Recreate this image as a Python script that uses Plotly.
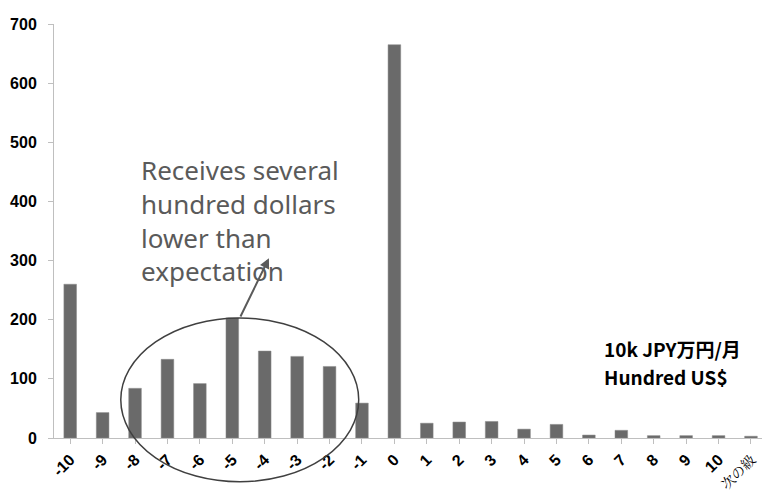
import plotly.graph_objects as go

# Monthly shortfall distribution (difference from expected income)
categories = ["-10", "-9", "-8", "-7", "-6", "-5", "-4", "-3", "-2", "-1", "0",
              "1", "2", "3", "4", "5", "6", "7", "8", "9", "10", "次の級"]
counts = [260, 43, 84, 133, 92, 203, 147, 138, 121, 59, 665,
          25, 27, 28, 15, 23, 5, 13, 4, 4, 4, 3]
y_ticks = [0, 100, 200, 300, 400, 500, 600, 700]

note_lines = ["Receives several", "hundred dollars", "lower than", "expectation"]
unit_lines = ["10k JPY万円/月", "Hundred US$"]

BAR = "#6a6a6a"
AXIS = "#bfbfbf"
NOTE = "#5a5a5a"

X_MAX = 21.34  # category range shown on the right edge
Y_MAX = 700


def dom_x(v):
    """Category position -> fraction of x domain."""
    return (v + 0.5) / (X_MAX + 0.5)


def dom_y(v):
    """Value -> fraction of y domain."""
    return v / Y_MAX


tick_text = [
    c if i < len(categories) - 1 else
    '<span style="font-family:\'Noto Serif CJK JP\',\'Noto Sans CJK JP\';'
    'font-weight:normal;font-size:14px">' + c + "</span>"
    for i, c in enumerate(categories)
]

fig = go.Figure(
    go.Bar(
        x=list(range(len(categories))),
        y=counts,
        marker=dict(color=BAR, line=dict(color="#8a8a8a", width=0.5)),
        width=0.39,
    )
)

fig.update_layout(
    width=762,
    height=492,
    margin=dict(l=54, r=0, t=24, b=54),
    plot_bgcolor="white",
    paper_bgcolor="white",
    showlegend=False,
    xaxis=dict(
        range=[-0.5, X_MAX],
        automargin=False,
        tickmode="array",
        tickvals=list(range(len(categories))),
        ticktext=tick_text,
        tickangle=-45,
        tickfont=dict(family="Liberation Sans", size=16, color="black", weight="bold"),
        showline=True,
        linecolor=AXIS,
        linewidth=1,
        ticks="outside",
        tickson="boundaries",
        ticklen=5,
        tickcolor=AXIS,
        showgrid=False,
        zeroline=False,
    ),
    yaxis=dict(
        range=[0, Y_MAX],
        automargin=False,
        tickmode="array",
        tickvals=y_ticks,
        tickfont=dict(family="Liberation Sans", size=16, color="black", weight="bold"),
        ticklabelstandoff=8,
        showline=True,
        linecolor=AXIS,
        linewidth=1,
        ticks="outside",
        ticklen=5,
        tickcolor=AXIS,
        showgrid=False,
        zeroline=False,
    ),
)

# Ellipse around the -8 .. -1 group
fig.add_shape(
    type="circle",
    xref="x domain",
    yref="y domain",
    x0=dom_x(1.56),
    x1=dom_x(8.90),
    y0=dom_y(-74),
    y1=dom_y(203),
    line=dict(color="#404040", width=1.5),
    fillcolor="rgba(0,0,0,0)",
)

# Callout text
fig.add_annotation(
    xref="x domain",
    yref="y domain",
    x=dom_x(2.12),
    y=dom_y(487),
    xanchor="left",
    yanchor="top",
    align="left",
    showarrow=False,
    text="<br>".join(note_lines),
    font=dict(family="Noto Sans", size=26, color=NOTE),
)

# Arrow from the ellipse to the callout
fig.add_annotation(
    xref="x",
    yref="y",
    axref="x",
    ayref="y",
    x=6.13,
    y=304,
    ax=5.23,
    ay=203,
    text="",
    showarrow=True,
    arrowhead=2,
    arrowsize=1,
    arrowwidth=2,
    arrowcolor=NOTE,
    standoff=0,
    startstandoff=0,
)

# Unit label, one line per annotation
for k, line in enumerate(unit_lines):
    fig.add_annotation(
        xref="x domain",
        yref="y domain",
        x=dom_x(16.40),
        y=dom_y(151 - 47 * k),
        xanchor="left",
        yanchor="middle",
        showarrow=False,
        text="<b>" + line + "</b>",
        font=dict(family="Noto Sans CJK JP", size=19, color="black"),
    )

fig.write_html("out.html")
